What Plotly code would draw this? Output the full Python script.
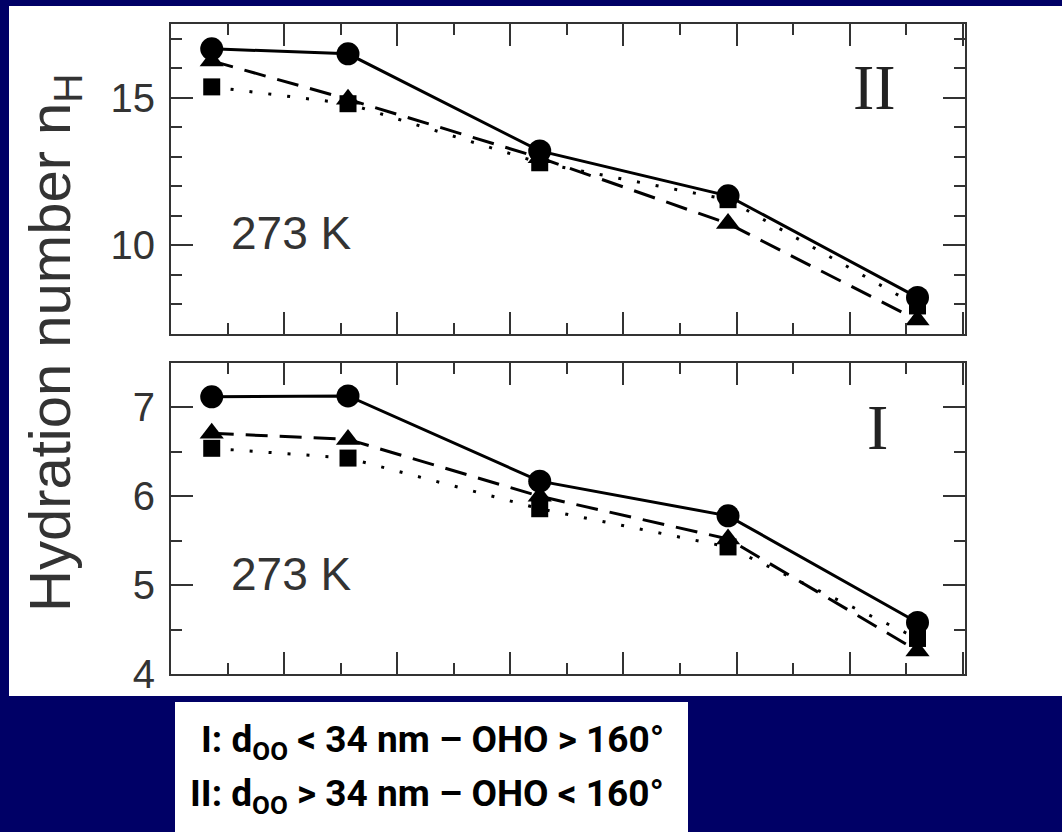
import plotly.graph_objects as go

# Canvas size in pixels
W, H = 1062, 832

# Positions along the (unlabelled) horizontal axis
x_vals = [0.36, 1.565, 3.26, 4.925, 6.6]

# Panel II (upper): hydration number for the three data sets
ii_circle = [16.66, 16.49, 13.2, 11.68, 8.24]
ii_triangle = [16.25, 14.95, 12.97, 10.74, 7.47]
ii_square = [15.37, 14.8, 12.8, 11.55, 7.95]

# Panel I (lower)
i_circle = [7.12, 7.13, 6.17, 5.78, 4.58]
i_triangle = [6.71, 6.64, 6.0, 5.52, 4.26]
i_square = [6.54, 6.43, 5.86, 5.43, 4.4]

panel_labels = ["II", "I"]
temp_label = "273 K"
y_title = "Hydration number n<sub>H</sub>"
caption = ["I: d<sub>OO</sub> < 34 nm – OHO > 160°",
           "II: d<sub>OO</sub> > 34 nm – OHO < 160°"]

NAVY = "#000066"
INK = "#333333"
SANS = "Liberation Sans, Arial, sans-serif"


def px(x):
    return x / W


def py(y):
    return 1 - y / H


def add_series(fig, xa, ya, circ, tri, sq):
    fig.add_trace(go.Scatter(
        x=x_vals, y=sq, xaxis=xa, yaxis=ya, mode="lines+markers",
        line=dict(color="black", width=3, dash="3px,16px"),
        marker=dict(symbol="square", size=17, color="black"),
        showlegend=False))
    fig.add_trace(go.Scatter(
        x=x_vals, y=tri, xaxis=xa, yaxis=ya, mode="lines+markers",
        line=dict(color="black", width=3, dash="22px,12px"),
        marker=dict(symbol="triangle-up", size=21, color="black"),
        showlegend=False))
    fig.add_trace(go.Scatter(
        x=x_vals, y=circ, xaxis=xa, yaxis=ya, mode="lines+markers",
        line=dict(color="black", width=3),
        marker=dict(symbol="circle", size=23, color="black"),
        showlegend=False))


fig = go.Figure()
add_series(fig, "x", "y", ii_circle, ii_triangle, ii_square)
add_series(fig, "x2", "y2", i_circle, i_triangle, i_square)

axis_common = dict(
    showline=True, linecolor=INK, linewidth=2, mirror="allticks",
    ticks="inside", ticklen=22, tickwidth=2, tickcolor=INK,
    showgrid=False, zeroline=False, automargin=False,
)
xaxis_common = dict(axis_common, range=[0, 7.02], tick0=0, dtick=1,
                    showticklabels=False,
                    minor=dict(ticks="inside", ticklen=11, tickwidth=2,
                               tickcolor=INK, dtick=0.5, tick0=0))
tickfont = dict(family=SANS, size=40, color=INK)

x_dom = [px(171), px(965)]
fig.update_layout(
    width=W, height=H, autosize=False,
    margin=dict(l=0, r=0, t=0, b=0, pad=0, autoexpand=False),
    paper_bgcolor=NAVY, plot_bgcolor="rgba(0,0,0,0)",
    xaxis=dict(xaxis_common, domain=x_dom, anchor="y"),
    xaxis2=dict(xaxis_common, domain=x_dom, anchor="y2"),
    yaxis=dict(axis_common, domain=[py(334), py(24)], anchor="x",
               range=[7, 17.5], tick0=0, dtick=5, tickfont=tickfont,
               ticklabelstandoff=6,
               minor=dict(ticks="inside", ticklen=11, tickwidth=2,
                          tickcolor=INK, dtick=1, tick0=0)),
    yaxis2=dict(axis_common, domain=[py(674), py(363)], anchor="x2",
                range=[4, 7.5], tick0=0, dtick=1, tickfont=tickfont,
                ticklabelstandoff=6,
                minor=dict(ticks="inside", ticklen=11, tickwidth=2,
                           tickcolor=INK, dtick=0.5, tick0=0)),
)

# White figure area and caption box
fig.add_shape(type="rect", xref="paper", yref="paper",
              x0=px(9), x1=1.0, y0=py(696), y1=py(6),
              fillcolor="white", line_width=0, layer="below")
fig.add_shape(type="rect", xref="paper", yref="paper",
              x0=px(175), x1=px(688), y0=0, y1=py(702),
              fillcolor="white", line_width=0, layer="below")

# Temperature labels
for yc in (233, 574):
    fig.add_annotation(text=temp_label, xref="paper", yref="paper",
                       x=px(229), y=py(yc), xanchor="left", yanchor="middle",
                       showarrow=False,
                       font=dict(family=SANS, size=46, color=INK))

# Panel labels in a serif face
for lab, (cx, cy) in zip(panel_labels, ((874, 87), (877, 427))):
    fig.add_annotation(text=lab, xref="paper", yref="paper",
                       x=px(cx), y=py(cy), xanchor="center", yanchor="middle",
                       showarrow=False,
                       font=dict(family="Liberation Serif, Times New Roman, serif",
                                 size=64, color="#222222"))

# Vertical axis title
fig.add_annotation(text=y_title, xref="paper", yref="paper",
                   x=px(54), y=py(343), textangle=-90,
                   xanchor="center", yanchor="middle", showarrow=False,
                   font=dict(family=SANS, size=58, color=INK))

# Caption with the two hydrogen-bond classes, one annotation per line
for line, yc in zip(caption, (742, 796)):
    fig.add_annotation(text=line, xref="paper", yref="paper",
                       x=px(666), y=py(yc), xanchor="right", yanchor="middle",
                       align="right", showarrow=False,
                       font=dict(family="Roboto, Liberation Sans, sans-serif",
                                 size=37, color="black", weight="bold"))

fig.write_html("out.html")
